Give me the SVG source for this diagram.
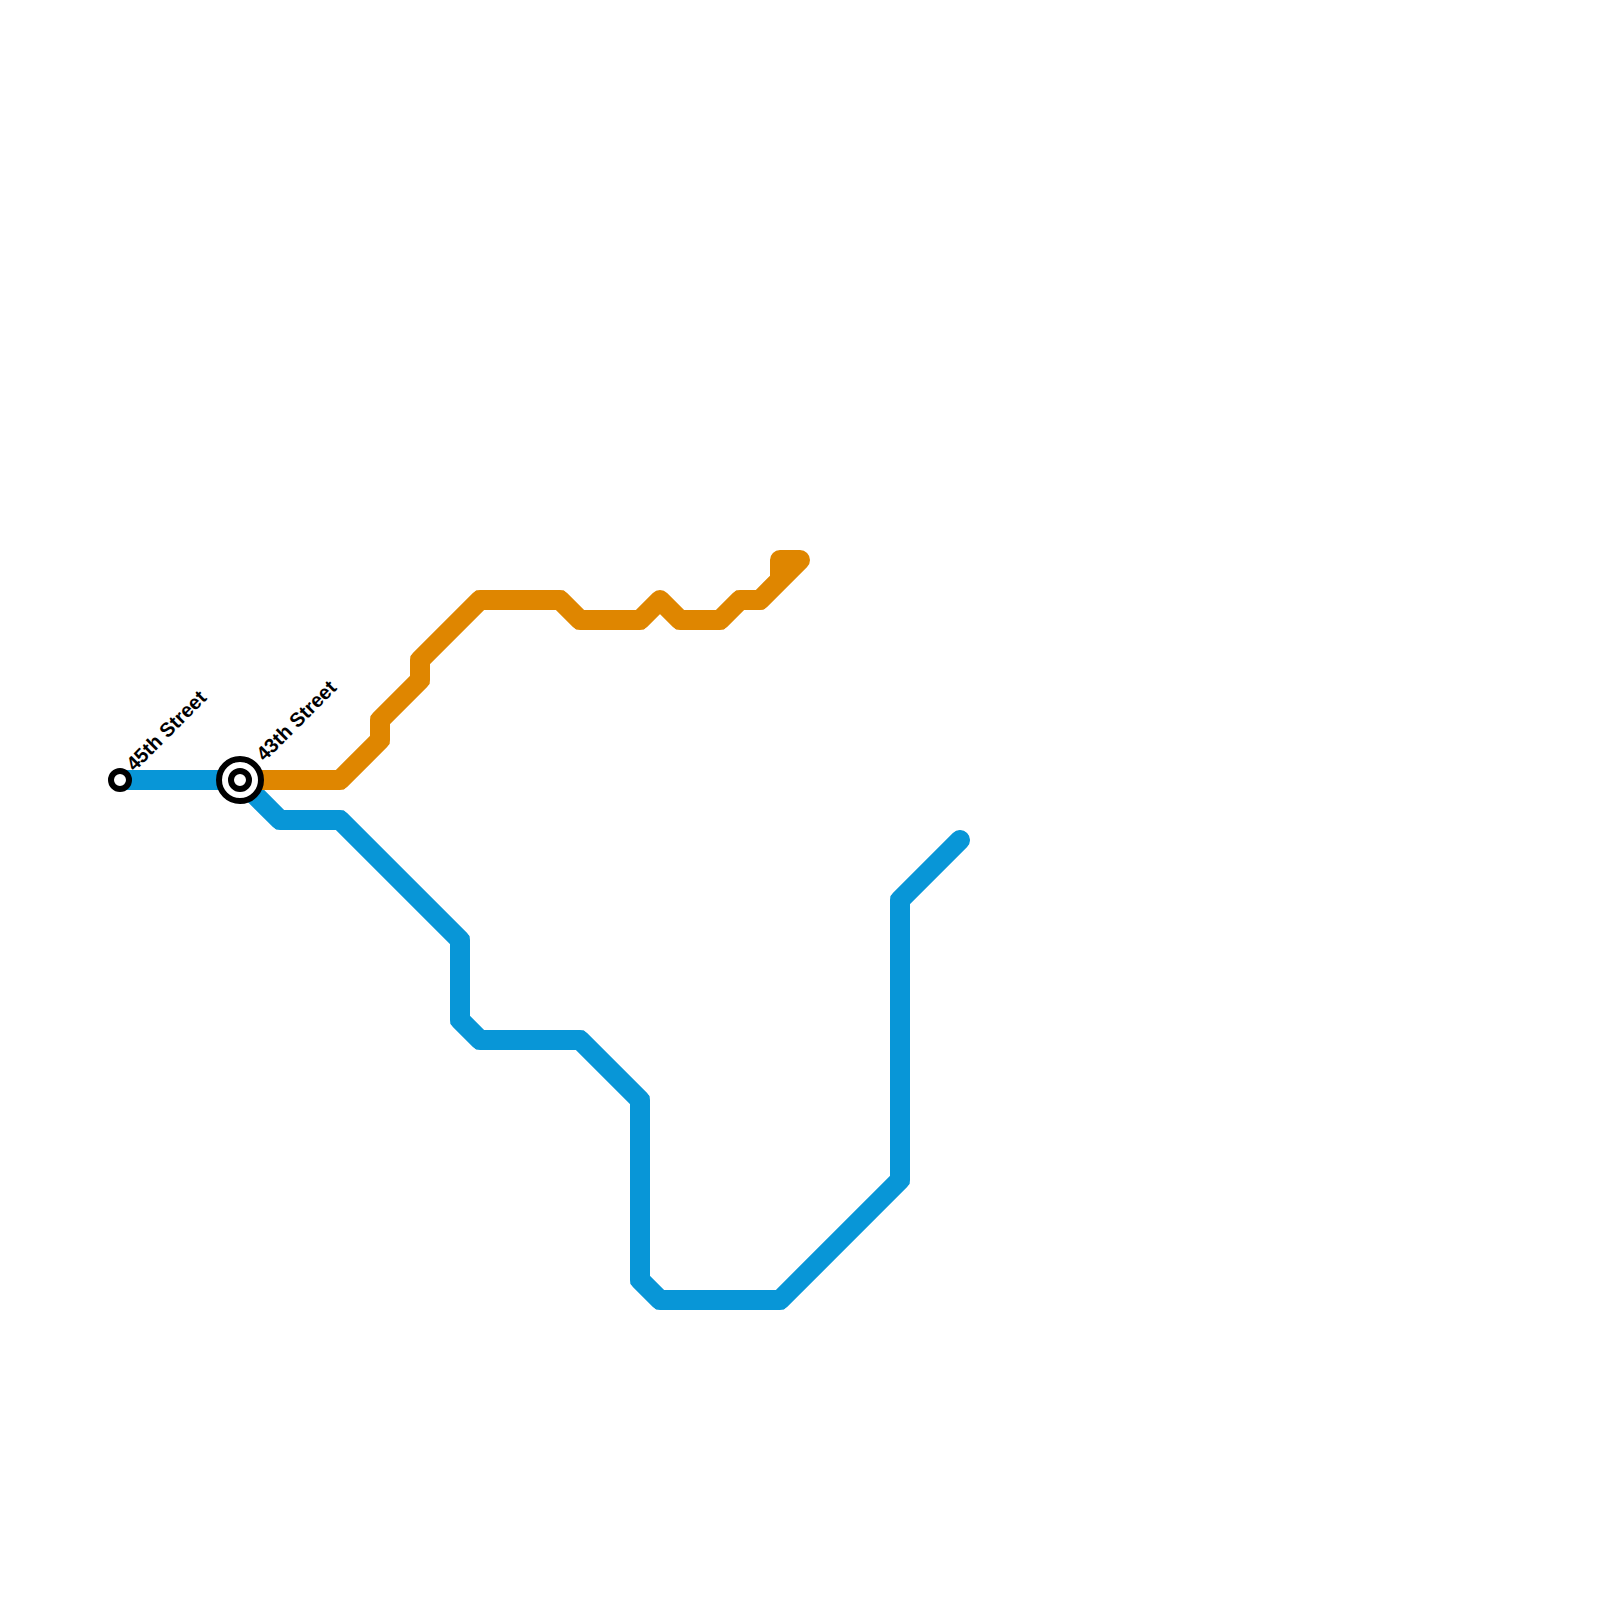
<svg xmlns="http://www.w3.org/2000/svg" xmlns:xlink="http://www.w3.org/1999/xlink" width="1600" height="1600" viewBox="0 0 1600 1600">
<style>
.line{fill:none;stroke-width:20;stroke-linecap:round;stroke-linejoin:round}
.corner{fill:none;stroke-width:19;stroke-linecap:round;stroke-linejoin:miter;stroke-miterlimit:1.2}
.st{fill:#fff;stroke:#000;stroke-width:6}
.lbl{font-family:"Liberation Sans",Arial,sans-serif;font-size:20px;font-weight:700;fill:#000}
</style>
<defs>
<path id="blue-path" d="M120 780H240L280 820H340L460 940V1020L480 1040H580L640 1100V1280L660 1300H780L900 1180V900L960 840"/>
<path id="orange-path" d="M240 780H340L380 740V720L420 680V660L480 600H560L580 620H640L660 600L680 620H720L740 600H760L800 560H780V580"/>
</defs>
<rect width="1600" height="1600" fill="#fff"/>
<g id="connectors">
<g id="blue-line" stroke="#0896d7"><use class="line" href="#blue-path"/><use class="corner" href="#blue-path"/></g>
<g id="orange-line" stroke="#df8600"><use class="line" href="#orange-path"/><use class="corner" href="#orange-path"/></g>
</g>
<g id="station-45th">
<circle class="st" cx="120" cy="780" r="9"/>
<text class="lbl" transform="translate(134.5 772) rotate(-45)">45th Street</text>
</g>
<g id="station-43rd">
<circle class="st" cx="240" cy="780" r="21"/>
<circle class="st" cx="240" cy="780" r="9"/>
<text class="lbl" transform="translate(264.5 762) rotate(-45)">43th Street</text>
</g>
</svg>
